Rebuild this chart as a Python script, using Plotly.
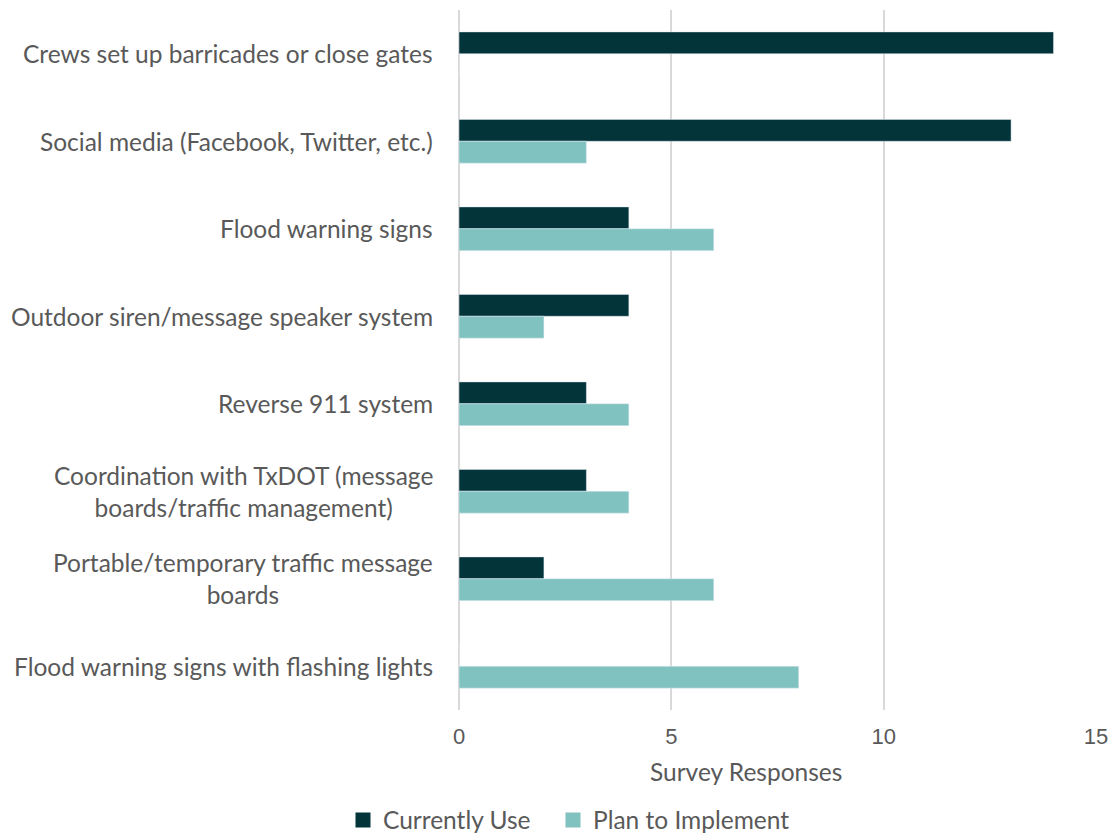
import plotly.graph_objects as go

categories = [
    "Crews set up barricades or close gates",
    "Social media (Facebook, Twitter, etc.)",
    "Flood warning signs",
    "Outdoor siren/message speaker system",
    "Reverse 911 system",
    "Coordination with TxDOT (message<br>boards/traffic management)",
    "Portable/temporary traffic message<br>boards",
    "Flood warning signs with flashing lights",
]
currently_use = [14, 13, 4, 4, 3, 3, 2, 0]
plan_to_implement = [0, 3, 6, 2, 4, 4, 6, 8]
x_ticks = [0, 5, 10, 15]
series_names = ["Currently Use", "Plan to Implement"]

DARK = "#02343A"
LIGHT = "#80C2C0"
TEXT = "#595959"
LABEL_FONT = "Lato, Carlito, Calibri, sans-serif"

fig = go.Figure()
for name, vals, col in zip(series_names, [currently_use, plan_to_implement], [DARK, LIGHT]):
    fig.add_trace(go.Bar(y=categories, x=vals, orientation="h",
                         name=name, marker_color=col, showlegend=False))
# legend entries with larger square swatches, one legend box each
for name, col, lg in zip(series_names, [DARK, LIGHT], ["legend", "legend2"]):
    fig.add_trace(go.Scatter(x=[None], y=[None], mode="markers", name=name,
                             legend=lg,
                             marker=dict(symbol="square", size=15, color=col)))

for c in categories:
    fig.add_annotation(x=0, xref="paper", y=c, yref="y", text=c,
                       xanchor="right", yanchor="middle", align="center",
                       xshift=-24, showarrow=False,
                       font=dict(family=LABEL_FONT, size=24.5, color=TEXT))

fig.add_annotation(x=(746 - 459) / 637, xref="paper", y=-(771 - 710) / 700, yref="paper",
                   text="Survey Responses", showarrow=False,
                   xanchor="center", yanchor="middle",
                   font=dict(family=LABEL_FONT, size=24.5, color=TEXT))

legend_common = dict(orientation="h", xanchor="left",
                     yref="container", y=(835 - 820) / 835, yanchor="middle",
                     font=dict(family=LABEL_FONT, size=24.5, color=TEXT),
                     itemwidth=30, bgcolor="rgba(0,0,0,0)")

fig.update_layout(
    width=1113, height=835,
    margin=dict(l=459, r=17, t=10, b=125, autoexpand=False),
    paper_bgcolor="white", plot_bgcolor="white",
    barmode="group", bargap=0.5, bargroupgap=0,
    showlegend=True,
    legend=dict(x=(343 - 459) / 637, **legend_common),
    legend2=dict(x=(553 - 459) / 637, **legend_common),
    xaxis=dict(range=[0, 15], tickvals=x_ticks, showgrid=True,
               gridcolor="#D9D9D9", gridwidth=2, zeroline=True,
               zerolinecolor="#D9D9D9", zerolinewidth=2, showline=False,
               ticks="", ticklen=0, ticklabelstandoff=11, automargin=False,
               tickfont=dict(family="Liberation Sans, Arial, sans-serif",
                             size=22, color=TEXT)),
    yaxis=dict(autorange="reversed", showticklabels=False, showgrid=False,
               zeroline=False, showline=False, ticks="", automargin=False),
)

fig.write_html("out.html", config={"displayModeBar": False},
               post_script="document.body.style.margin='0';document.body.style.overflow='hidden';")
